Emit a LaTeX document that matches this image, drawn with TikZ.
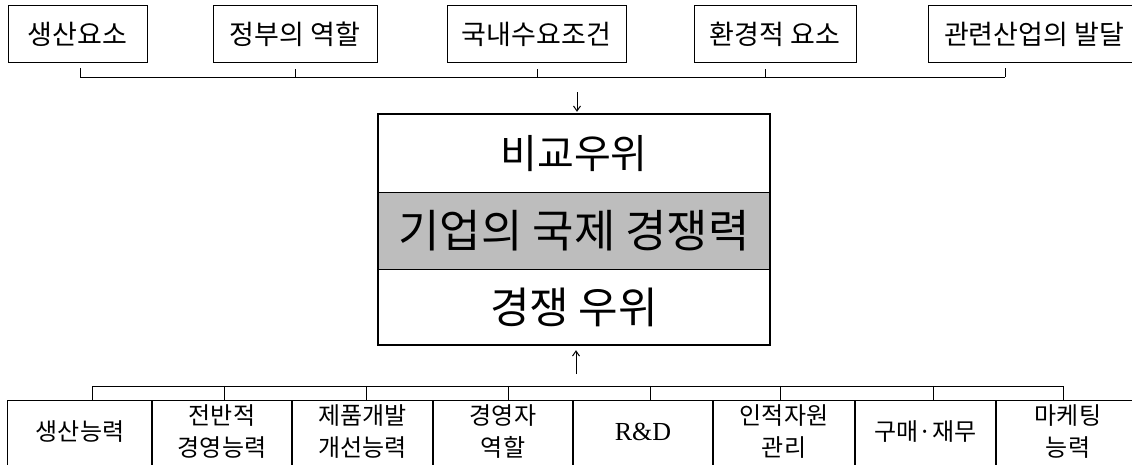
\documentclass[tikz,border=0pt]{standalone}
\usepackage{fontspec}
\newfontfamily\kr{Noto Sans CJK KR}
\newfontfamily\lserif{Liberation Serif}
\usetikzlibrary{arrows.meta,calc}
\tikzset{
  topbox/.style={draw, line width=1pt, inner sep=0pt, minimum height=57pt, font=\kr\fontsize{27}{30}\selectfont},
  mainpart/.style={inner sep=0pt, minimum width=392pt},
  cell/.style={inner sep=0pt, minimum height=62pt, align=center, font=\kr\fontsize{24}{32}\selectfont},
  conn/.style={line width=1pt},
  arr/.style={line width=1pt, -{Straight Barb[length=5pt,width=7pt]}}
}
\begin{document}
\begin{tikzpicture}[x=1pt,y=-1pt]
\useasboundingbox (0,0) rectangle (1132,464);
\clip (0,0) rectangle (1132,464);
\fill[white] (0,0) rectangle (1132,464);

% top boxes
\node[topbox, minimum width=139pt] (t1) at (77.5,34) {생산요소};
\node[topbox, minimum width=164pt] (t2) at (295,34) {정부의 역할};
\node[topbox, minimum width=179pt] (t3) at (536.5,34) {국내수요조건};
\node[topbox, minimum width=162pt] (t4) at (775,34) {환경적 요소};
\node[topbox, minimum width=212pt] (t5) at (1034,34) {관련산업의 발달\hspace{18pt}};

% top bracket
\coordinate (tl) at (80,77);
\coordinate (tr) at (1005,77);
\draw[conn] (tl) -- (tr);
\draw[conn] (tl) -- ++(0,-9);
\draw[conn] (tr) -- ++(0,-9);
\draw[conn] ([yshift=-6pt]t2.south) -- ([yshift=-15pt]t2.south);
\draw[conn] ([yshift=-6pt,xshift=0.5pt]t3.south) -- ([yshift=-15pt,xshift=0.5pt]t3.south);
\draw[conn] ([yshift=-6pt,xshift=-10pt]t4.south) -- ([yshift=-15pt,xshift=-10pt]t4.south);

% main box
\node[mainpart, minimum height=79pt, font=\kr\fontsize{40}{44}\selectfont] (m1) at (574,153.5) {비교우위};
\node[mainpart, minimum height=76pt, fill=black!26, font=\kr\fontsize{45}{48}\selectfont] (m2) at (574,231) {기업의 국제 경쟁력};
\node[mainpart, minimum height=76pt, font=\kr\fontsize{43}{46}\selectfont] (m3) at (574,307) {경쟁 우위};
\draw[line width=1pt] (m2.north west) -- (m2.north east);
\draw[line width=1pt] (m2.south west) -- (m2.south east);
\draw[line width=2pt] (m1.north west) rectangle (m3.south east);

% arrows
\coordinate (ad) at (577,92);
\draw[arr] (ad) -- ([xshift=3pt,yshift=2pt]m1.north);
\coordinate (au) at (576,374);
\draw[arr] (au) -- ([xshift=2pt,yshift=-5pt]m3.south);

% bottom cells
\node[cell, minimum width=144pt] (c1) at (80,432) {생산능력};
\node[cell, minimum width=140pt] (c2) at (222,432) {전반적\\경영능력};
\node[cell, minimum width=141pt] (c3) at (362.5,432) {제품개발\\개선능력};
\node[cell, minimum width=140pt] (c4) at (503,432) {경영자\\역할};
\node[cell, minimum width=140pt, font=\lserif\fontsize{26}{30}\selectfont] (c5) at (643,432) {R\&D};
\node[cell, minimum width=142pt] (c6) at (784,432) {인적자원\\관리};
\node[cell, minimum width=141pt] (c7) at (925.5,432) {구매·재무};
\node[cell, minimum width=144pt] (c8) at (1068,432) {마케팅\hspace{20pt}\\능력\hspace{20pt}};
\foreach \c in {c1,c2,c3,c4,c5,c6,c7,c8}{
  \draw[conn] ([yshift=-20pt]\c.south west) -- (\c.north west) -- (\c.north east) -- ([yshift=-20pt]\c.south east);
}

% bottom bracket
\coordinate (bl) at (92,386);
\coordinate (br) at (1063,386);
\draw[conn] (bl) -- (br);
\draw[conn] (bl) -- ++(0,15);
\draw[conn] (br) -- ++(0,15);
\foreach \c/\dx in {c2/2,c3/3.5,c4/5,c5/7,c6/-4,c7/7.5}{
  \draw[conn] ([xshift=\dx pt,yshift=15pt]\c.north) -- ([xshift=\dx pt]\c.north);
}
\end{tikzpicture}
\end{document}
